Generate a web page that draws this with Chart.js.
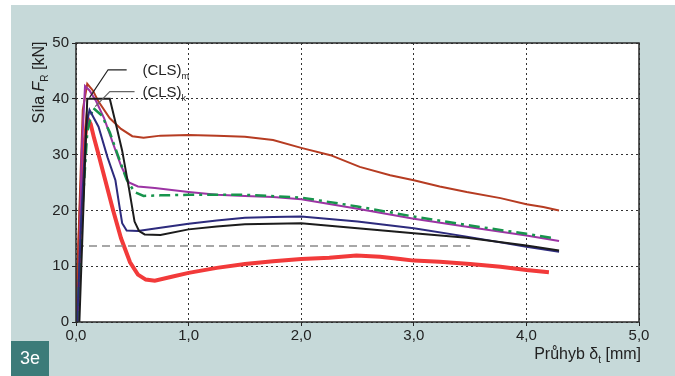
<!DOCTYPE html>
<html><head><meta charset="utf-8">
<script src="https://cdn.jsdelivr.net/npm/chart.js@4"></script>
<style>html,body{margin:0;padding:0;background:#fff}canvas{display:block}</style>
</head><body>
<canvas id="c" width="675" height="376"></canvas>
<script>
// ---- data ----
const xTicks = [0, 1, 2, 3, 4, 5];
const yTicks = [0, 10, 20, 30, 40, 50];

const brownX = [0, 0.03, 0.06, 0.1, 0.15, 0.2, 0.3, 0.4, 0.5, 0.6, 0.75, 1.0, 1.25, 1.5, 1.75, 2.0, 2.26, 2.52, 2.79, 3.0, 3.23, 3.47, 3.77, 4.0, 4.15, 4.29];
const brownY = [0, 20, 38, 42.7, 41.5, 39.5, 36.5, 34.6, 33.3, 33.0, 33.4, 33.5, 33.4, 33.2, 32.6, 31.2, 29.9, 27.8, 26.3, 25.4, 24.3, 23.3, 22.2, 21.1, 20.6, 20.0];

const purpleX = [0.02, 0.05, 0.08, 0.12, 0.18, 0.25, 0.32, 0.4, 0.47, 0.55, 0.7, 1.0, 1.25, 1.5, 1.75, 2.0, 2.5, 3.0, 3.5, 4.0, 4.29];
const purpleY = [0, 30, 42.3, 41.5, 39.5, 36.5, 32.5, 28.0, 25.0, 24.3, 24.0, 23.3, 22.8, 22.6, 22.4, 22.0, 20.3, 18.5, 17.0, 15.5, 14.5];

const greenX = [0.01, 0.05, 0.1, 0.15, 0.23, 0.3, 0.37, 0.45, 0.52, 0.6, 0.75, 1.0, 1.5, 2.0, 2.5, 3.0, 3.5, 4.0, 4.25];
const greenY = [0, 18, 34, 38.4, 37.0, 34, 30, 25.5, 23.3, 22.6, 22.7, 22.8, 22.8, 22.3, 20.7, 18.9, 17.3, 15.8, 15.0];

const navyX = [0.01, 0.05, 0.09, 0.12, 0.2, 0.28, 0.35, 0.38, 0.41, 0.45, 0.55, 0.75, 1.0, 1.25, 1.5, 1.75, 2.0, 2.5, 3.0, 3.47, 4.0, 4.29];
const navyY = [0, 20, 35, 38, 35, 29.5, 25.4, 21.5, 17.7, 16.4, 16.3, 16.9, 17.6, 18.2, 18.7, 18.8, 18.9, 18.0, 16.8, 15.3, 13.5, 12.6];

const blackX = [0.03, 0.1, 0.3, 0.36, 0.41, 0.47, 0.52, 0.56, 0.61, 0.75, 1.0, 1.25, 1.5, 1.75, 2.0, 2.5, 3.0, 3.47, 4.0, 4.29];
const blackY = [0, 40, 40, 35, 30.7, 24, 18, 16.3, 15.7, 15.6, 16.6, 17.1, 17.5, 17.6, 17.7, 16.8, 15.9, 15.1, 13.7, 12.8];

const redX = [0, 0.03, 0.06, 0.1, 0.13, 0.16, 0.2, 0.26, 0.33, 0.4, 0.48, 0.55, 0.62, 0.7, 0.85, 1.0, 1.25, 1.5, 1.75, 2.0, 2.25, 2.49, 2.7, 2.88, 3.0, 3.23, 3.5, 3.77, 4.0, 4.2];
const redY = [0, 14, 29, 36.6, 35.5, 33, 30, 25.4, 20, 15, 10.7, 8.5, 7.6, 7.4, 8.1, 8.8, 9.7, 10.4, 10.9, 11.3, 11.5, 11.9, 11.7, 11.3, 11.0, 10.8, 10.4, 9.9, 9.3, 8.9];

const greyX = [0, 3.5];
const greyY = [13.6, 13.6];

// annotation anchors (data coordinates)
const clsM = {text: 0.59, ty: 45.0, line: [[0.45, 45.2], [0.285, 45.2], [0.12, 40.2]]};
const clsK = {text: 0.59, ty: 41.1, line: [[0.52, 41.3], [0.3, 41.3], [0.17, 38.6]]};

// ---- build ----
const pts = (xs, ys) => xs.map((x, i) => ({x, y: ys[i]}));
const FONT = "'Liberation Sans', Arial, Helvetica, sans-serif";

function drawSub(ctx, parts, x, y, align) {
  // parts: [{t, size, italic, dy}]
  let w = 0;
  parts.forEach(p => { ctx.font = (p.italic ? 'italic ' : '') + p.size + 'px ' + FONT; p.w = ctx.measureText(p.t).width; w += p.w; });
  let cx = align === 'right' ? x - w : align === 'center' ? x - w / 2 : x;
  parts.forEach(p => {
    ctx.font = (p.italic ? 'italic ' : '') + p.size + 'px ' + FONT;
    ctx.textAlign = 'left';
    ctx.fillText(p.t, cx, y + (p.dy || 0));
    cx += p.w;
  });
}

const deco = {
  id: 'deco',
  beforeDraw(chart) {
    const ctx = chart.ctx, a = chart.chartArea;
    ctx.save();
    ctx.fillStyle = '#ffffff';
    ctx.fillRect(0, 0, chart.width, chart.height);
    ctx.fillStyle = '#c6d9d9';
    ctx.fillRect(11, 5, chart.width - 11, chart.height - 5);
    ctx.fillStyle = '#ffffff';
    ctx.fillRect(a.left, a.top, a.right - a.left, a.bottom - a.top);
    ctx.restore();
  },
  afterDatasetsDraw(chart) {
    const ctx = chart.ctx, a = chart.chartArea;
    const xs = chart.scales.x, ys = chart.scales.y;
    ctx.save();
    // frame
    ctx.strokeStyle = '#2a2a2a';
    ctx.lineWidth = 1.5;
    ctx.setLineDash([]);
    ctx.strokeRect(a.left, a.top, a.right - a.left, a.bottom - a.top);
    // leader lines
    [[clsM, '#222'], [clsK, '#666']].forEach(([c, col]) => {
      ctx.beginPath();
      c.line.forEach((p, i) => {
        const px = xs.getPixelForValue(p[0]), py = ys.getPixelForValue(p[1]);
        i ? ctx.lineTo(px, py) : ctx.moveTo(px, py);
      });
      ctx.strokeStyle = col; ctx.lineWidth = 1.2; ctx.stroke();
    });
    ctx.fillStyle = '#222';
    ctx.textBaseline = 'middle';
    drawSub(ctx, [{t: '(CLS)', size: 15}, {t: 'm', size: 9, dy: 6}], xs.getPixelForValue(clsM.text), ys.getPixelForValue(clsM.ty), 'left');
    drawSub(ctx, [{t: '(CLS)', size: 15}, {t: 'k', size: 9, dy: 6}], xs.getPixelForValue(clsK.text), ys.getPixelForValue(clsK.ty), 'left');
    // x title
    ctx.textBaseline = 'alphabetic';
    drawSub(ctx, [{t: 'Průhyb δ', size: 16}, {t: 't', size: 10, dy: 4}, {t: ' [mm]', size: 16}], a.right + 2, 359, 'right');
    // y title
    ctx.save();
    ctx.translate(44, (a.top + 122) / 2);
    ctx.rotate(-Math.PI / 2);
    drawSub(ctx, [{t: 'Síla ', size: 16}, {t: 'F', size: 16, italic: true}, {t: 'R', size: 10, dy: 4}, {t: ' [kN]', size: 16}], 0, 0, 'center');
    ctx.restore();
    // 3e box
    ctx.fillStyle = '#3c7b79';
    ctx.fillRect(11, 341, 38, 35);
    ctx.fillStyle = '#ffffff';
    ctx.textBaseline = 'middle';
    ctx.font = '18px ' + FONT;
    ctx.textAlign = 'center';
    ctx.fillText('3e', 30, 359);
    ctx.restore();
  }
};

const ds = (label, xs, ys, color, width, dash) => ({
  label, data: pts(xs, ys), borderColor: color, borderWidth: width,
  borderDash: dash || [], pointRadius: 0, tension: 0, fill: false
});

const gridCommon = {
  color: '#333', lineWidth: 1, drawTicks: true, tickLength: 4,
  tickColor: '#222', tickWidth: 1, tickBorderDash: []
};

new Chart(document.getElementById('c'), {
  type: 'line',
  data: {
    datasets: [
      ds('black', blackX, blackY, '#1c1c1c', 2),
      ds('navy', navyX, navyY, '#2d2b7d', 2),
      ds('green', greenX, greenY, '#17944c', 2.5, [11, 5, 3, 5]),
      ds('purple', purpleX, purpleY, '#9c34a4', 2),
      ds('brown', brownX, brownY, '#b63c22', 2),
      ds('grey', greyX, greyY, '#8a8a8a', 1.5, [8, 5]),
      ds('red', redX, redY, '#f23a3a', 4)
    ]
  },
  options: {
    responsive: false, animation: false,
    layout: {padding: {left: 11, right: 36, top: 43, bottom: 0}},
    plugins: {legend: {display: false}, tooltip: {enabled: false}},
    scales: {
      x: {
        type: 'linear', min: 0, max: 5,
        afterBuildTicks: s => { s.ticks = xTicks.map(v => ({value: v})); },
        ticks: {callback: v => v.toFixed(1).replace('.', ','), font: {family: FONT, size: 15}, color: '#222', padding: 1, maxRotation: 0, autoSkip: false},
        grid: gridCommon,
        border: {display: false, dash: [2, 3]},
        afterFit: s => { s.height = 54; }
      },
      y: {
        type: 'linear', min: 0, max: 50,
        afterBuildTicks: s => { s.ticks = yTicks.map(v => ({value: v})); },
        ticks: {font: {family: FONT, size: 15}, color: '#222', padding: 3, autoSkip: false},
        grid: gridCommon,
        border: {display: false, dash: [2, 3]},
        afterFit: s => { s.width = 65; }
      }
    }
  },
  plugins: [deco]
});
</script>
</body></html>
